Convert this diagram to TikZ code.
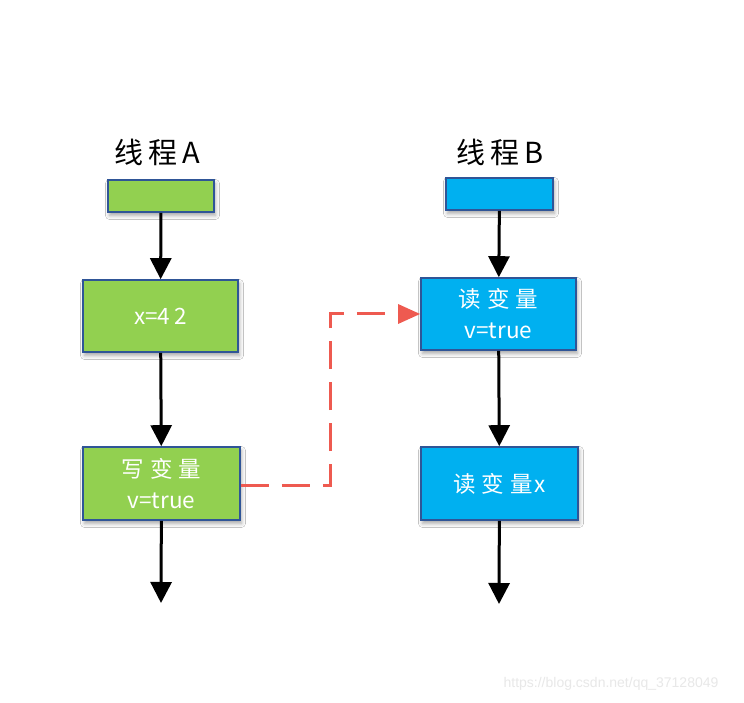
\documentclass[tikz,border=0pt]{standalone}
\usepackage{fontspec}
\newfontfamily\cjk{Noto Sans CJK SC}
\newfontfamily\wm{Liberation Sans}
\usetikzlibrary{arrows.meta,shadows.blur}
\definecolor{gA}{HTML}{92D050}
\definecolor{bB}{HTML}{00B0F0}
\definecolor{edge}{HTML}{2F5597}
\definecolor{redl}{HTML}{EE5A50}
\tikzset{
  box/.style={draw=edge,line width=1.6pt,text=white,align=center,
    font=\cjk\fontsize{22.5}{31}\selectfont,inner sep=0pt,
    blur shadow={shadow xshift=1.5pt,shadow yshift=-3.5pt,shadow blur radius=4pt,shadow opacity=35}},
  greenbox/.style={box,fill=gA},
  bluebox/.style={box,fill=bB},
  title/.style={font=\cjk\fontsize{29}{32}\selectfont,text=black},
  flow/.style={line width=3pt,-{Triangle[width=21pt,length=21pt]}},
  sync/.style={draw=redl,line width=3pt,dash pattern=on 28pt off 13pt,
    -{Triangle[width=19pt,length=22pt]}}
}
\begin{document}
\begin{tikzpicture}[x=1pt,y=1pt]
\useasboundingbox[fill=white] (0,0) rectangle (744,702);
\node[title] (tA) at (157,550) {线\hspace{5pt}程\hspace{5pt}A};
\node[title] (tB) at (500,550) {线\hspace{5pt}程\hspace{5pt}B};
\node[greenbox,minimum width=106pt,minimum height=32pt] (topA) at (161,506) {};
\node[bluebox,minimum width=107pt,minimum height=32pt] (topB) at (499.5,508) {};
\node[greenbox,minimum width=155pt,minimum height=72pt] (x42) at (160.5,386) {x=4\hspace{4pt}2};
\node[greenbox,minimum width=157pt,minimum height=73pt] (wA) at (161.5,218.5) {写\hspace{6pt}变\hspace{6pt}量\\v=true};
\node[bluebox,minimum width=155pt,minimum height=72pt] (rB1) at (498.5,388) {读\hspace{6pt}变\hspace{6pt}量\\v=true};
\node[bluebox,minimum width=157pt,minimum height=73pt] (rB2) at (499.5,218.5) {读\hspace{6pt}变\hspace{6pt}量\hspace{2pt}x};
\coordinate (endA) at (161,99);
\coordinate (endB) at (499,98);
\coordinate (bend) at (330,0);
\draw[flow] (topA) -- (x42);
\draw[flow] (x42) -- (wA);
\draw[flow] (wA) -- (endA);
\draw[flow] (topB) -- (rB1);
\draw[flow] (rB1) -- (rB2);
\draw[flow] (rB2) -- (endB);
\draw[sync] ([yshift=-1.5pt]wA.east) -| (bend |- rB1.west) -- (rB1.west);
\node[font=\wm\fontsize{14}{16}\selectfont,text=black!9] (wmark) at (611,18) {https://blog.csdn.net/qq\_37128049};
\end{tikzpicture}
\end{document}
